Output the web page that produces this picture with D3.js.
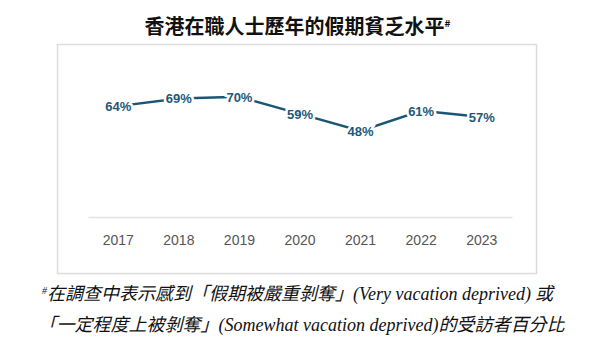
<!DOCTYPE html>
<html>
<head>
<meta charset="utf-8">
<style>
  body { margin: 0; background: #fff; }
  svg { display: block; }
</style>
</head>
<body>
<script src="https://d3js.org/d3.v7.min.js"></script>
<script>
var years = ['2017', '2018', '2019', '2020', '2021', '2022', '2023'];
var deprived = [64, 69, 70, 59, 48, 61, 57];
var title = '香港在職人士歷年的假期貧乏水平';
var note1 = ['在調查中表示感到「假期被嚴重剝奪」', '(Very vacation deprived)', ' 或'];
var note2 = ['「一定程度上被剝奪」', '(Somewhat vacation deprived)', '的受訪者百分比'];

var width = 599, height = 351;
var cjk = '"Noto Sans CJK TC", "Noto Sans CJK SC", sans-serif';

var svg = d3.select('body').append('svg')
    .attr('width', width)
    .attr('height', height);

// title
var t = svg.append('text')
    .attr('x', 297.5)
    .attr('y', 34)
    .attr('text-anchor', 'middle')
    .style('font-family', cjk)
    .style('font-weight', 'bold')
    .style('font-size', '20px')
    .style('fill', '#111');
t.append('tspan').text(title);
t.append('tspan').text('#')
    .attr('dy', -7)
    .style('font-size', '10px');

// frame
svg.append('rect')
    .attr('x', 57.5).attr('y', 44.5)
    .attr('width', 479).attr('height', 229)
    .attr('fill', 'none')
    .attr('stroke', '#dcdcdc')
    .attr('stroke-width', 1.5);

var x = d3.scaleBand().domain(years).range([88, 512]).padding(0);
var y = d3.scaleLinear().domain([0, 100]).range([205, 50.5]);

var axis = svg.append('g')
    .attr('transform', 'translate(0,217)')
    .call(d3.axisBottom(x).tickSize(0).tickSizeOuter(0).tickPadding(18));
axis.select('.domain').attr('stroke', '#e2e2e2').attr('stroke-width', 1.5);
axis.selectAll('text')
    .style('font-family', 'Arial, "Liberation Sans", sans-serif')
    .style('font-size', '14px')
    .style('fill', '#555');

var cx = function(d, i) { return x(years[i]) + x.bandwidth() / 2; };

var line = d3.line()
    .x(function(d, i) { return cx(d, i); })
    .y(function(d) { return y(d); });

svg.append('path')
    .datum(deprived)
    .attr('d', line)
    .attr('fill', 'none')
    .attr('stroke', '#1b5675')
    .attr('stroke-width', 2.5);

svg.selectAll('.lbl')
    .data(deprived)
    .enter().append('text')
    .attr('class', 'lbl')
    .attr('x', cx)
    .attr('y', function(d) { return y(d) + 5; })
    .attr('text-anchor', 'middle')
    .style('font-family', 'Arial, "Liberation Sans", sans-serif')
    .style('font-weight', 'bold')
    .style('font-size', '13px')
    .style('fill', '#1e5878')
    .style('stroke', '#fff')
    .style('stroke-width', 5)
    .style('paint-order', 'stroke')
    .text(function(d) { return d + '%'; });

// footnote
function noteLine(parts, xx, yy, hash) {
  var tx = svg.append('text')
      .attr('x', xx)
      .attr('y', yy)
      .attr('text-anchor', 'middle')
      .style('font-style', 'italic')
      .style('font-size', '18px')
      .style('fill', '#111');
  if (hash) {
    tx.append('tspan').text('#')
        .attr('dy', -6)
        .style('font-family', '"Liberation Serif", serif')
        .style('font-size', '10px');
  }
  parts.forEach(function(p, i) {
    var s = tx.append('tspan').text(p)
        .style('font-family', i === 1 ? '"Liberation Serif", serif' : cjk);
    if (hash && i === 0) s.attr('dy', 6);
  });
}
noteLine(note1, 297.5, 300, true);
noteLine(note2, 301.5, 331, false);
</script>
</body>
</html>
